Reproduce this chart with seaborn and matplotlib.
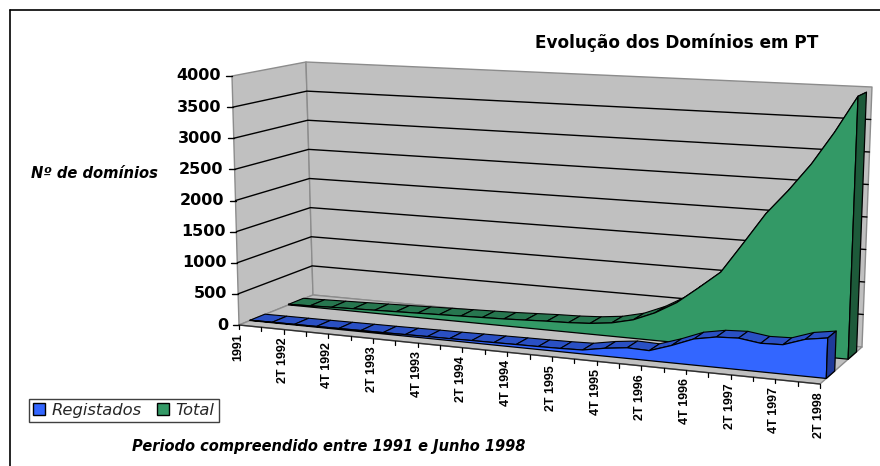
import numpy as np
import pandas as pd
import seaborn as sns
import matplotlib.pyplot as plt
from matplotlib.patches import Patch

quarters = ["1991",
            "1T 1992", "2T 1992", "3T 1992", "4T 1992",
            "1T 1993", "2T 1993", "3T 1993", "4T 1993",
            "1T 1994", "2T 1994", "3T 1994", "4T 1994",
            "1T 1995", "2T 1995", "3T 1995", "4T 1995",
            "1T 1996", "2T 1996", "3T 1996", "4T 1996",
            "1T 1997", "2T 1997", "3T 1997", "4T 1997",
            "1T 1998", "2T 1998"]
registados = [5, 8, 10, 12, 15, 18, 20, 24, 28, 30, 35, 38, 42, 45, 50, 60,
              120, 160, 150, 260, 390, 450, 465, 420, 430, 540, 590]
total = [10, 20, 30, 40, 50, 60, 70, 80, 90, 100, 110, 125, 140, 150, 170, 210,
         290, 430, 620, 880, 1150, 1620, 2100, 2480, 2900, 3400, 3960]
value_ticks = [0, 500, 1000, 1500, 2000, 2500, 3000, 3500, 4000]
vmax = 4000

sns.set_theme(style="white")
plt.rcParams["font.family"] = ["DejaVu Sans"]

# corners of the chart box in picture pixels: (u, w) -> bottom, top
box = {(0, 0): ((239, 325), (232, 76)),
       (1, 0): ((820, 384), (830, 107)),
       (0, 1): ((313, 295), (306, 62)),
       (1, 1): ((862, 347), (872, 87))}


def project(i, val, w):
    # i = quarter position, val = domains, w = depth 0 (front) to 1 (back)
    u = np.asarray(i, dtype=float) / (len(quarters) - 1)
    v = np.asarray(val, dtype=float) / vmax
    w = np.asarray(w, dtype=float)
    out = []
    for k in (0, 1):
        bot = ((1 - u) * (1 - w) * box[0, 0][0][k] + u * (1 - w) * box[1, 0][0][k]
               + (1 - u) * w * box[0, 1][0][k] + u * w * box[1, 1][0][k])
        top = ((1 - u) * (1 - w) * box[0, 0][1][k] + u * (1 - w) * box[1, 0][1][k]
               + (1 - u) * w * box[0, 1][1][k] + u * w * box[1, 1][1][k])
        out.append(bot + (top - bot) * v)
    return out[0], out[1]


fig = plt.figure(figsize=(8.8, 4.66), dpi=100)
ax = fig.add_axes([0, 0, 1, 1])
ax.set_xlim(0, 880)
ax.set_ylim(466, 0)
ax.axis("off")

n = len(quarters)
last = n - 1
wall = "#C0C0C0"
edge = "#8C8C8C"


def face(pts, color, ec=edge, lw=1.0, z=1):
    xs = [p[0] for p in pts]
    ys = [p[1] for p in pts]
    ax.fill(xs, ys, facecolor=color, edgecolor=ec, linewidth=lw, zorder=z, joinstyle="round")


# walls and floor
face([project(0, 0, 0), project(0, vmax, 0), project(0, vmax, 1), project(0, 0, 1)], wall)
face([project(0, 0, 1), project(0, vmax, 1), project(last, vmax, 1), project(last, 0, 1)], wall)
face([project(0, 0, 0), project(last, 0, 0), project(last, 0, 1), project(0, 0, 1)], wall, z=1.5)

# gridlines, value ticks
for val in value_ticks:
    a, b, c = project(0, val, 0), project(0, val, 1), project(last, val, 1)
    if val not in (0, vmax):
        ax.plot([a[0], b[0], c[0]], [a[1], b[1], c[1]], color="black", lw=1.0, zorder=1.2)
    ax.plot([a[0] - 6, a[0]], [a[1], a[1]], color="black", lw=1.0, zorder=2)
    ax.text(a[0] - 11, a[1], str(val), ha="right", va="center", fontsize=11.5,
            fontweight="bold", color="black")

# front edge of the floor
fx, fy = project(np.arange(n), np.zeros(n), np.zeros(n))
front_edge = pd.DataFrame({"x": fx, "y": fy})
sns.lineplot(data=front_edge, x="x", y="y", sort=False, estimator=None, color="#303030",
             lw=1.0, ax=ax, zorder=2)
for i in range(n):
    ax.plot([fx[i], fx[i]], [fy[i], fy[i] + 4], color="black", lw=0.9, zorder=2)
    if i % 2 == 0:
        ax.text(fx[i] - 1, fy[i] + 8, quarters[i], rotation=90, ha="center", va="top",
                fontsize=9, fontweight="bold", color="black", family="Liberation Sans")


def ribbon(vals, w0, w1, front, topc, side, z):
    idx = np.arange(n)
    # top faces go first, the front face covers the hidden part of them
    for i in range(last):
        face([project(i, vals[i], w0), project(i + 1, vals[i + 1], w0),
              project(i + 1, vals[i + 1], w1), project(i, vals[i], w1)],
             topc, ec="black", lw=0.8, z=z)
    tx, ty = project(idx, vals, np.full(n, w0))
    bx, by = project(idx, np.zeros(n), np.full(n, w0))
    ax.fill(np.r_[tx, bx[::-1]], np.r_[ty, by[::-1]], facecolor=front, edgecolor="none", zorder=z + 0.1)
    outline = pd.DataFrame({"x": np.r_[tx, bx[::-1], tx[0]], "y": np.r_[ty, by[::-1], ty[0]]})
    sns.lineplot(data=outline, x="x", y="y", sort=False, estimator=None, color="black", lw=0.9,
                 ax=ax, zorder=z + 0.2)
    face([project(last, 0, w0), project(last, vals[-1], w0),
          project(last, vals[-1], w1), project(last, 0, w1)],
         side, ec="black", lw=0.9, z=z + 0.3)


ribbon(total, 0.67, 0.87, "#339966", "#27764F", "#1D5A3A", 3)
ribbon(registados, 0.15, 0.35, "#3366FF", "#2A50C4", "#1F3A99", 4)

ax.set_xlabel("")
ax.set_ylabel("")

# frame lines of the chart area
ax.plot([10, 880], [10, 10], color="black", lw=1.2, zorder=6)
ax.plot([10, 10], [10, 466], color="black", lw=1.2, zorder=6)

ax.text(677, 43, "Evolução dos Domínios em PT", ha="center", va="center",
        fontsize=12.2, fontweight="bold", color="black")
ax.text(94, 173, "Nº de domínios", ha="center", va="center", fontsize=10.6,
        fontweight="bold", fontstyle="italic", color="black")
ax.text(329, 446, "Periodo compreendido entre 1991 e Junho 1998", ha="center", va="center",
        fontsize=10.5, fontweight="bold", fontstyle="italic", color="black")

handles = [Patch(facecolor="#3366FF", edgecolor="black", label="Registados"),
           Patch(facecolor="#339966", edgecolor="black", label="Total")]
leg = ax.legend(handles=handles, ncols=2, loc="upper left", bbox_to_anchor=(29, 399),
                bbox_transform=ax.transData, fancybox=False, framealpha=1, edgecolor="#404040",
                prop={"style": "italic", "size": 11.8}, borderpad=0.25, handlelength=0.75,
                handleheight=0.75, handletextpad=0.4, columnspacing=0.9, borderaxespad=0)
leg.get_frame().set_linewidth(1.0)

plt.savefig("out.png", dpi=100)
plt.close()
